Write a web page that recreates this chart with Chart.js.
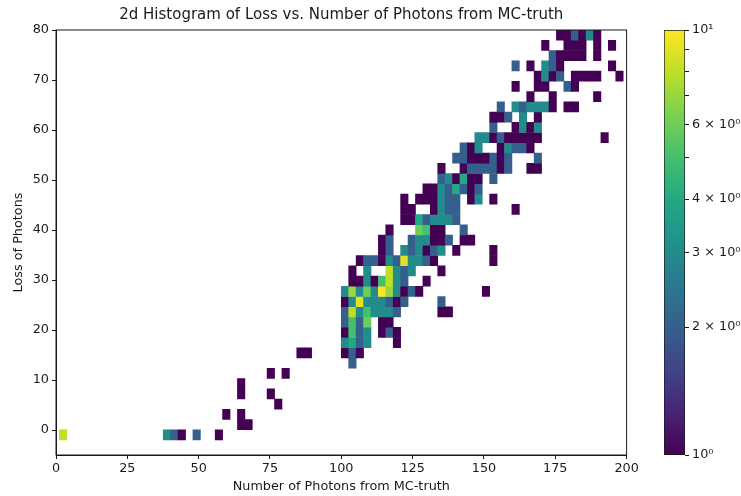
<!DOCTYPE html>
<html><head><meta charset="utf-8">
<script src="https://cdn.jsdelivr.net/npm/chart.js@4.4.0/dist/chart.umd.min.js"></script>
<style>
html,body{margin:0;padding:0;background:#fff;}
#wrap{position:relative;width:741px;height:496px;overflow:hidden;background:#fff;}
#main{position:absolute;left:0;top:0;width:650px;height:496px;}
#cbar{position:absolute;left:650px;top:0;width:91px;height:496px;}
</style></head><body>
<div id="wrap">
<canvas id="main" width="650" height="496"></canvas>
<canvas id="cbar" width="91" height="496"></canvas>
</div>
<script>
// ---- histogram bin edges (data units) ----
const xEdgeStart = 1.2, xBinWidth = 2.6;     // Number of Photons from MC-truth
const yEdgeStart = -2.0, yBinHeight = 2.05;  // Loss of Photons

// ---- tick values / labels ----
const xTicks = [0, 25, 50, 75, 100, 125, 150, 175, 200];
const yTicks = [0, 10, 20, 30, 40, 50, 60, 70, 80];
const cbarTicks = [1, 2, 3, 4, 5, 6, 7, 8, 9, 10];
const cbarLabels = ['10\u2070', '2 \u00d7 10\u2070', '3 \u00d7 10\u2070', '4 \u00d7 10\u2070', '', '6 \u00d7 10\u2070', '', '', '', '10\u00b9'];

// ---- non-empty histogram cells: [x-bin index, y-bin index, count] ----
const lowCells = [
  [0,0,8],[14,0,3],[15,0,2],[16,0,1],[18,0,2],[21,0,1],
  [24,1,1],[25,1,1],[22,2,1],[24,2,1],[29,3,1],[24,4,1],[28,4,1],[24,5,1],
  [28,6,1],[30,6,1],[32,8,1],[33,8,1]
];
const midCells = [
  [39,7,2],
  [38,8,1],[39,8,2],[40,8,1],
  [38,9,3],[39,9,4],[40,9,2],[41,9,3],[45,9,1],
  [38,10,1],[39,10,5],[40,10,2],[41,10,3],[43,10,1],[44,10,2],[45,10,1],
  [38,11,2],[39,11,5],[40,11,2],[41,11,6],[43,11,1],[44,11,1],
  [38,12,2],[39,12,8],[40,12,3],[41,12,5],[42,12,3],[43,12,3],[44,12,3],[45,12,2],[51,12,1],[52,12,1],
  [38,13,1],[39,13,3],[40,13,9],[41,13,3],[42,13,3],[43,13,3],[44,13,2],[45,13,1],[46,13,2],[51,13,2],
  [38,14,3],[39,14,7],[40,14,3],[41,14,6],[42,14,3],[43,14,10],[44,14,7],[45,14,3],[46,14,1],[47,14,2],[48,14,1],[57,14,1],
  [39,15,1],[40,15,1],[41,15,3],[42,15,1],[43,15,5],[44,15,8],[45,15,3],[46,15,2],[49,15,1],
  [39,16,1],[41,16,3],[44,16,8],[45,16,3],[46,16,2],[47,16,3],[51,16,1],
  [40,17,1],[41,17,2],[42,17,2],[43,17,1],[44,17,3],[45,17,2],[46,17,9],[47,17,3],[48,17,3],[49,17,2],[50,17,1],[58,17,1],
  [43,18,1],[44,18,2],[46,18,3],[47,18,2],[48,18,3],[49,18,1],[50,18,2],[51,18,3],[53,18,1],[58,18,1],
  [43,19,1],[44,19,2],[47,19,2],[48,19,3],[49,19,3],[50,19,1],[51,19,1],[52,19,2],[54,19,1],[55,19,1],
  [44,20,1],[48,20,6],[49,20,5],[50,20,1],[51,20,1],[54,20,2]
];
const highCells = [
  [46,21,1],[47,21,1],[48,21,4],[49,21,2],[50,21,3],[51,21,3],[52,21,3],[53,21,2],
  [46,22,1],[47,22,1],[50,22,1],[51,22,3],[52,22,2],[53,22,2],[61,22,1],
  [46,23,1],[48,23,1],[49,23,1],[50,23,1],[51,23,3],[52,23,2],[53,23,2],[55,23,1],[56,23,3],[58,23,1],
  [49,24,1],[50,24,1],[51,24,3],[52,24,2],[53,24,4],[54,24,2],[55,24,1],[56,24,2],
  [51,25,2],[52,25,3],[53,25,1],[54,25,4],[55,25,1],[56,25,1],[58,25,2],
  [51,26,1],[54,26,1],[55,26,2],[56,26,2],[57,26,2],[58,26,2],[59,26,1],[60,26,2],[63,26,1],[64,26,1],
  [53,27,2],[54,27,2],[55,27,1],[56,27,1],[57,27,1],[58,27,2],[59,27,1],[60,27,2],[64,27,2],
  [54,28,2],[55,28,1],[56,28,3],[59,28,1],[60,28,3],[61,28,2],[62,28,2],[63,28,1],
  [56,29,3],[57,29,3],[58,29,1],[59,29,2],[60,29,1],[61,29,1],[62,29,1],[63,29,1],[64,29,1],[73,29,1],
  [58,30,2],[61,30,1],[62,30,3],[63,30,1],[64,30,3],
  [58,31,1],[59,31,1],[60,31,2],[62,31,3],[64,31,1],
  [59,32,2],[61,32,3],[62,32,2],[63,32,3],[64,32,3],[65,32,3],[66,32,1],[68,32,1],[69,32,1],
  [63,33,1],[66,33,1],[72,33,1],
  [61,34,1],[64,34,1],[65,34,1],[68,34,2],[69,34,1],
  [64,35,1],[65,35,3],[66,35,1],[67,35,2],[69,35,1],[70,35,1],[71,35,1],[72,35,1],[75,35,1],
  [61,36,2],[63,36,1],[65,36,3],[66,36,2],[67,36,1],[74,36,1],
  [66,37,2],[67,37,1],[68,37,1],[69,37,1],[70,37,1],[72,37,1],
  [65,38,1],[68,38,1],[69,38,1],[70,38,1],[72,38,1],[74,38,1],
  [67,39,1],[68,39,1],[69,39,2],[70,39,1],[71,39,3],[72,39,1]
];
const countMin = 1, countMax = 10;

// ---- viridis colormap ----
const viridisStops = ['#440154','#482475','#414487','#355f8d','#2a788e','#21918c','#22a884','#44bf70','#7ad151','#bddf26','#fde725'];
function hexRgb(h){ return [parseInt(h.slice(1,3),16), parseInt(h.slice(3,5),16), parseInt(h.slice(5,7),16)]; }
function viridis(t){
  t = Math.max(0, Math.min(1, t));
  const n = viridisStops.length - 1;
  const k = Math.min(n - 1, Math.floor(t * n));
  const f = t * n - k;
  const a = hexRgb(viridisStops[k]), b = hexRgb(viridisStops[k + 1]);
  const c = a.map((v, idx) => Math.round(v + (b[idx] - v) * f));
  return 'rgb(' + c.join(',') + ')';
}
function logNorm(c){ return (Math.log10(c) - Math.log10(countMin)) / (Math.log10(countMax) - Math.log10(countMin)); }

const allCells = lowCells.concat(midCells, highCells);
const barData = allCells.map(([i, j, c]) => ({
  x: xEdgeStart + xBinWidth * (i + 0.5),
  y: [yEdgeStart + yBinHeight * j, yEdgeStart + yBinHeight * (j + 1)],
  c: c
}));

Chart.defaults.font.family = "'DejaVu Sans', sans-serif";
Chart.defaults.color = '#1a1a1a';

const ink = '#1a1a1a';
const frame = {
  id: 'frame',
  afterDatasetsDraw(chart){
    const {ctx, chartArea: a} = chart;
    ctx.save();
    ctx.strokeStyle = ink; ctx.lineWidth = 1;
    ctx.strokeRect(a.left, a.top, a.right - a.left, a.bottom - a.top);
    ctx.restore();
  }
};

new Chart(document.getElementById('main'), {
  type: 'bar',
  data: { datasets: [{
    data: barData,
    xAxisID: 'x',
    yAxisID: 'y',
    backgroundColor: ctx => ctx.raw ? viridis(logNorm(ctx.raw.c)) : 'rgba(0,0,0,0)',
    borderWidth: 0,
    categoryPercentage: 1,
    barPercentage: 1,
    grouped: false
  }]},
  options: {
    responsive: false,
    animation: false,
    layout: { padding: { left: 0, right: 23.4, top: 0, bottom: 0 } },
    plugins: {
      legend: { display: false },
      tooltip: { enabled: false },
      title: { display: false }
    },
    scales: {
      xTitle: {
        type: 'linear', axis: 'x', position: 'top', min: 0, max: 200,
        afterFit: s => { s.height = 30; },
        ticks: { display: false },
        grid: { display: false, drawTicks: false },
        border: { display: false },
        title: { display: true, text: '2d Histogram of Loss vs. Number of Photons from MC-truth', color: ink, font: { size: 15 }, padding: { top: 6, bottom: 0 } }
      },
      x: {
        type: 'linear', min: 0, max: 200, offset: false, position: 'bottom',
        afterBuildTicks: s => { s.ticks = xTicks.map(v => ({ value: v })); },
        afterFit: s => { s.height = 41; },
        ticks: { color: ink, font: { size: 12.8 }, padding: 2, maxRotation: 0, autoSkip: false },
        grid: { drawOnChartArea: false, drawTicks: true, tickLength: 4, color: ink, offset: false },
        border: { display: true, color: ink, width: 1 },
        title: { display: true, text: 'Number of Photons from MC-truth', color: ink, font: { size: 12.8 }, padding: { top: 0, bottom: 2 } }
      },
      y: {
        type: 'linear', min: -5, max: 80,
        afterBuildTicks: s => { s.ticks = yTicks.map(v => ({ value: v })); },
        afterFit: s => { s.width = 56; },
        ticks: { color: ink, font: { size: 12.8 }, padding: 3, autoSkip: false },
        grid: { drawOnChartArea: false, drawTicks: true, tickLength: 4, color: ink },
        border: { display: true, color: ink, width: 1 },
        title: { display: true, text: 'Loss of Photons', color: ink, font: { size: 12.8 }, padding: { top: 11, bottom: 0 } }
      }
    }
  },
  plugins: [frame]
});

new Chart(document.getElementById('cbar'), {
  type: 'bar',
  data: { labels: ['count'], datasets: [{
    data: [[countMin, countMax]],
    backgroundColor: ctx => {
      const a = ctx.chart.chartArea;
      if (!a) return '#21918c';
      const g = ctx.chart.ctx.createLinearGradient(0, a.bottom, 0, a.top);
      viridisStops.forEach((c, k) => g.addColorStop(k / (viridisStops.length - 1), c));
      return g;
    },
    borderColor: ink,
    borderWidth: 1,
    borderSkipped: false,
    categoryPercentage: 1,
    barPercentage: 1
  }]},
  options: {
    responsive: false,
    animation: false,
    layout: { padding: { left: 14, right: 0, top: 30, bottom: 41 } },
    plugins: { legend: { display: false }, tooltip: { enabled: false } },
    scales: {
      x: { display: false },
      y: {
        type: 'logarithmic', position: 'right', min: countMin, max: countMax,
        afterBuildTicks: s => { s.ticks = cbarTicks.map(v => ({ value: v })); },
        afterFit: s => { s.width = 56; },
        ticks: { callback: (v, i) => cbarLabels[i], color: ink, font: { size: 12.8 }, padding: 3, autoSkip: false },
        grid: { drawOnChartArea: false, drawTicks: true, tickLength: 4, color: ink },
        border: { display: false }
      }
    }
  }
});
</script>
</body></html>
